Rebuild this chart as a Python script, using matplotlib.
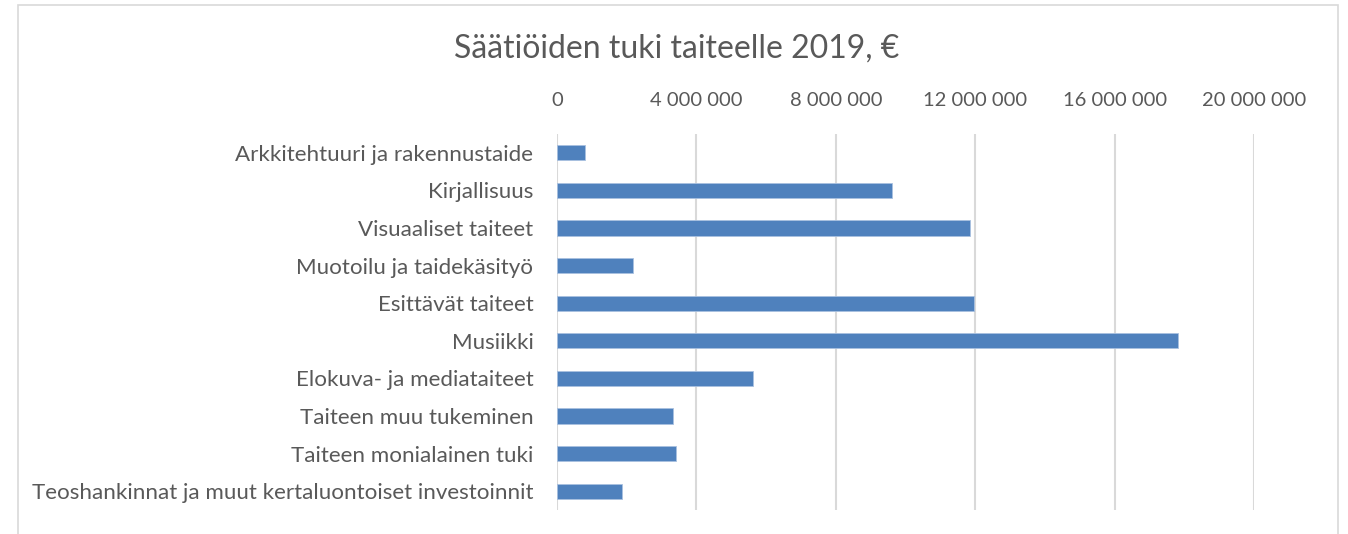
import matplotlib
matplotlib.use("Agg")
import matplotlib.pyplot as plt
from matplotlib.patches import Rectangle
from matplotlib.ticker import FuncFormatter

plt.rcParams['font.family'] = ['Lato', 'DejaVu Sans']

categories = [
    "Arkkitehtuuri ja rakennustaide",
    "Kirjallisuus",
    "Visuaaliset taiteet",
    "Muotoilu ja taidekäsityö",
    "Esittävät taiteet",
    "Musiikki",
    "Elokuva- ja mediataiteet",
    "Taiteen muu tukeminen",
    "Taiteen monialainen tuki",
    "Teoshankinnat ja muut kertaluontoiset investoinnit",
]
values = [790000, 9610000, 11840000, 2190000, 11960000, 17810000,
          5620000, 3340000, 3410000, 1870000]
xticks = [0, 4000000, 8000000, 12000000, 16000000, 20000000]
title = "Säätiöiden tuki taiteelle 2019, €"

W, H = 1348, 534
fig = plt.figure(figsize=(W / 100, H / 100), dpi=100)
fig.patch.set_facecolor("white")

# chart border
fig.patches.append(Rectangle((18 / W, -0.05), (1338 - 18) / W, 1.05 - 5 / H,
                             transform=fig.transFigure, fill=False,
                             edgecolor="#d9d9d9", linewidth=1.2))

ax = fig.add_axes([557 / W, 1 - 510 / H, (1254 - 557) / W, (510 - 134) / H])
y = list(range(len(categories)))
ax.barh(y, values, height=0.4, color="#4f81bd", edgecolor="#a9c1e0",
        linewidth=0.6, zorder=3)
ax.set_ylim(len(categories) - 0.5, -0.5)
ax.set_yticks(y)
ax.set_yticklabels(categories)
ax.set_xlim(0, 20000000)
ax.set_xticks(xticks)
ax.xaxis.set_major_formatter(FuncFormatter(lambda v, p: f"{int(v):,}".replace(",", " ")))
ax.xaxis.tick_top()
ax.tick_params(axis="both", length=0, colors="#595959")
ax.tick_params(axis="y", pad=17, labelsize=16.1)
ax.tick_params(axis="x", pad=18, labelsize=14.5)
ax.grid(axis="x", color="#d9d9d9", linewidth=1.5, zorder=0)
for s in ax.spines.values():
    s.set_visible(False)

fig.text(677 / W, 1 - 49 / H, title, ha="center", va="center",
         fontsize=23, color="#595959")

fig.savefig("out.png", dpi=100)
